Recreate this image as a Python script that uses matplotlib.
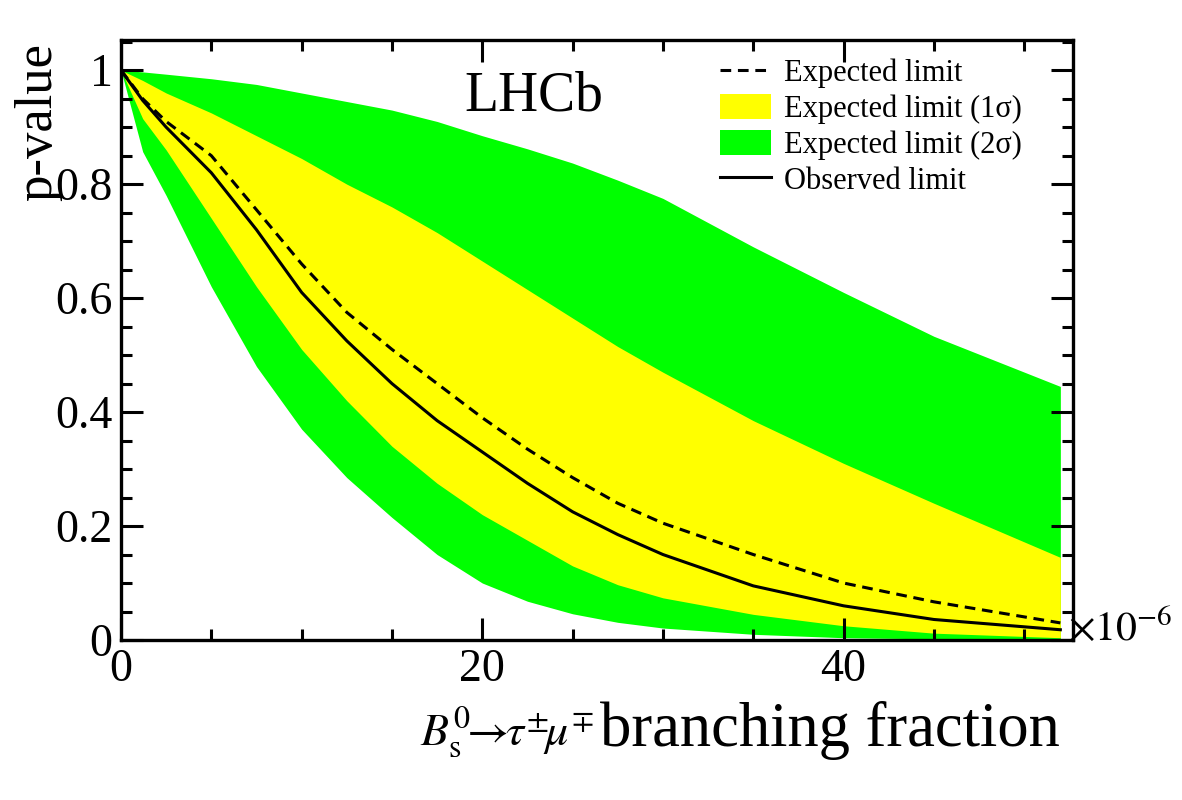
import matplotlib
matplotlib.use("Agg")
from matplotlib import pyplot as plt
from matplotlib.ticker import MultipleLocator

# branching fraction (x 1e-6)
bf = [0, 1.2, 2.5, 5, 7.5, 10, 12.5, 15, 17.5, 20, 22.5, 25, 27.5, 30, 35, 40, 45, 52]

observed = [1.0, 0.947, 0.90, 0.82, 0.72, 0.61, 0.525, 0.45, 0.385, 0.33, 0.275, 0.225,
            0.185, 0.15, 0.095, 0.060, 0.036, 0.018]
expected = [1.0, 0.95, 0.91, 0.85, 0.755, 0.66, 0.575, 0.51, 0.45, 0.39, 0.335, 0.285,
            0.24, 0.205, 0.15, 0.10, 0.067, 0.03]
sig1_hi = [1.0, 0.982, 0.96, 0.925, 0.885, 0.845, 0.80, 0.76, 0.715, 0.665, 0.615, 0.565,
           0.515, 0.47, 0.385, 0.31, 0.24, 0.145]
sig1_lo = [1.0, 0.915, 0.86, 0.74, 0.62, 0.51, 0.42, 0.34, 0.275, 0.22, 0.175, 0.13,
           0.097, 0.074, 0.045, 0.025, 0.012, 0.004]
sig2_hi = [1.0, 0.997, 0.993, 0.985, 0.975, 0.96, 0.945, 0.93, 0.91, 0.885, 0.862, 0.837,
           0.807, 0.775, 0.69, 0.61, 0.533, 0.445]
sig2_lo = [1.0, 0.857, 0.78, 0.62, 0.48, 0.37, 0.285, 0.215, 0.15, 0.10, 0.068, 0.046,
           0.031, 0.021, 0.01, 0.004, 0.002, 0.001]

plt.rcParams["font.family"] = ["Liberation Serif", "DejaVu Serif"]
plt.rcParams["mathtext.fontset"] = "stix"

fig = plt.figure(figsize=(11.82, 8), dpi=100)
ax = fig.add_axes([121 / 1182, 1 - 640 / 800, 952 / 1182, 600 / 800])

ax.fill_between(bf, sig2_lo, sig2_hi, color="#00ff00", lw=0, label="Expected limit (2σ)")
ax.fill_between(bf, sig1_lo, sig1_hi, color="#ffff00", lw=0, label="Expected limit (1σ)")
ax.plot(bf, expected, color="black", lw=2.2, ls=(0, (3.5, 2.2)), label="Expected limit")
ax.plot(bf, observed, color="black", lw=2.2, label="Observed limit")

ax.set_xlim(0, 52.7)
ax.set_ylim(0, 1.053)

ax.xaxis.set_major_locator(MultipleLocator(20))
ax.xaxis.set_minor_locator(MultipleLocator(5))
ax.yaxis.set_major_locator(MultipleLocator(0.2))
ax.yaxis.set_minor_locator(MultipleLocator(0.05))
ax.set_yticks([0, 0.2, 0.4, 0.6, 0.8, 1.0])
ax.set_yticklabels(["0", "0.2", "0.4", "0.6", "0.8", "1"])

ax.tick_params(which="both", direction="in", top=True, right=True, width=2.2,
               labelsize=33)
ax.tick_params(which="major", length=16)
ax.tick_params(which="minor", length=8)
ax.tick_params(axis="x", pad=6)
ax.tick_params(axis="y", pad=6)
for s in ax.spines.values():
    s.set_linewidth(2.4)

handles, labels = ax.get_legend_handles_labels()
order = [2, 1, 0, 3]
ax.legend([handles[i] for i in order], [labels[i] for i in order],
          loc="upper left", bbox_to_anchor=(0.607, 1.005), frameon=False,
          fontsize=22, handlelength=1.65, handleheight=0.85, handletextpad=0.45,
          labelspacing=0.2, borderaxespad=0.3)

ax.text(19.0, 0.93, "LHCb", fontsize=40)

fig.text(38 / 1182, 1 - 43 / 800, "p-value", rotation=90, ha="center", va="top", fontsize=38)
fig.text(1060 / 1182, 1 - 746 / 800, "branching fraction",
         ha="right", va="baseline", fontsize=45)
fig.text(594 / 1182, 1 - 746 / 800,
         r"$B_{\rm s}^{0}\!\!\rightarrow\!\!\tau^{\pm}\!\mu^{\mp}$",
         ha="right", va="baseline", fontsize=33)
fig.text(1068 / 1182, 1 - 640 / 800, r"$\times10^{-6}$", ha="left", va="baseline", fontsize=30)

fig.savefig("out.png", dpi=100)
